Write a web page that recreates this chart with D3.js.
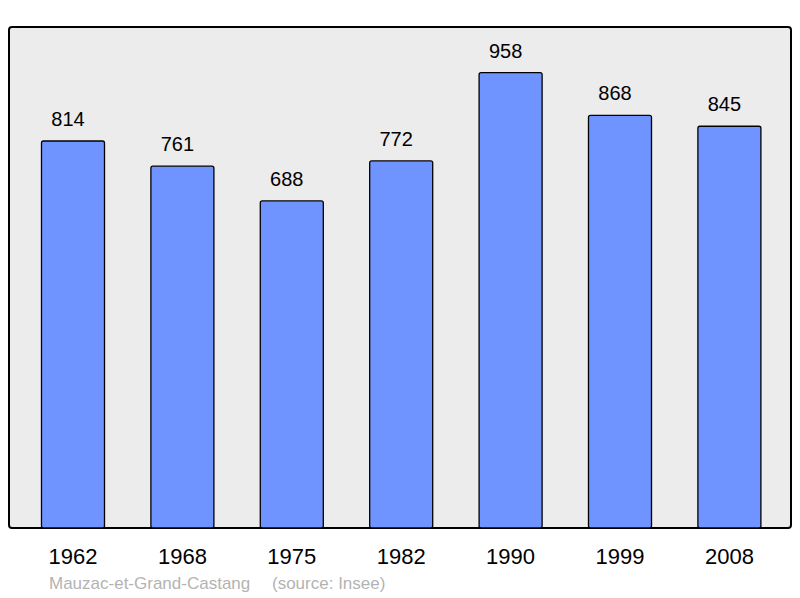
<!DOCTYPE html>
<html>
<head>
<meta charset="utf-8">
<script src="https://cdn.jsdelivr.net/npm/d3@7"></script>
<style>
  body { margin: 0; background: #fff; }
  text { font-family: "Liberation Sans", Arial, sans-serif; }
</style>
</head>
<body>
<div id="chart"></div>
<script>
// Population chart - Mauzac-et-Grand-Castang
const years = ['1962', '1968', '1975', '1982', '1990', '1999', '2008'];
const population = [814, 761, 688, 772, 958, 868, 845];
const caption = 'Mauzac-et-Grand-Castang';
const source = '(source: Insee)';

const width = 800;
const height = 598;
const panel = {left: 9, top: 27, right: 791, bottom: 528};

const svg = d3.select('#chart')
    .append('svg')
    .attr('width', width)
    .attr('height', height);

// background panel
svg.append('rect')
    .attr('x', panel.left)
    .attr('y', panel.top)
    .attr('width', panel.right - panel.left)
    .attr('height', panel.bottom - panel.top)
    .attr('rx', 3)
    .attr('fill', '#ececec')
    .attr('stroke', '#000')
    .attr('stroke-width', 2);

const x = d3.scaleBand()
    .domain(years)
    .range([18.3, 18.3 + 7 * 109.4])
    .paddingInner(0.424)
    .paddingOuter(0.212);

const y = d3.scaleLinear()
    .domain([0, 958 * 1.1])
    .range([panel.bottom, panel.top]);

const data = years.map((yr, i) => ({year: yr, value: population[i]}));

svg.selectAll('.bar')
    .data(data)
    .enter()
    .append('rect')
    .attr('class', 'bar')
    .attr('x', d => x(d.year))
    .attr('y', d => y(d.value))
    .attr('width', x.bandwidth())
    .attr('height', d => y(0) - y(d.value))
    .attr('rx', 2)
    .attr('fill', '#7094ff')
    .attr('stroke', '#000')
    .attr('stroke-width', 1.3);

// value labels (sit a little left of the bar centre, as in the original)
svg.selectAll('.val')
    .data(data)
    .enter()
    .append('text')
    .attr('x', d => x(d.year) + x.bandwidth() / 2 - 5)
    .attr('y', d => y(d.value) - 15)
    .attr('text-anchor', 'middle')
    .attr('font-size', '20px')
    .attr('fill', '#000')
    .text(d => d.value);

// year labels
svg.selectAll('.yr')
    .data(data)
    .enter()
    .append('text')
    .attr('x', d => x(d.year) + x.bandwidth() / 2)
    .attr('y', 564)
    .attr('text-anchor', 'middle')
    .attr('font-size', '22px')
    .attr('fill', '#000')
    .text(d => d.year);

// caption
svg.append('text')
    .attr('x', 49)
    .attr('y', 589)
    .attr('font-size', '17px')
    .attr('fill', '#b3b3b3')
    .text(caption);

svg.append('text')
    .attr('x', 272)
    .attr('y', 589)
    .attr('font-size', '17px')
    .attr('fill', '#b3b3b3')
    .text(source);
</script>
</body>
</html>
